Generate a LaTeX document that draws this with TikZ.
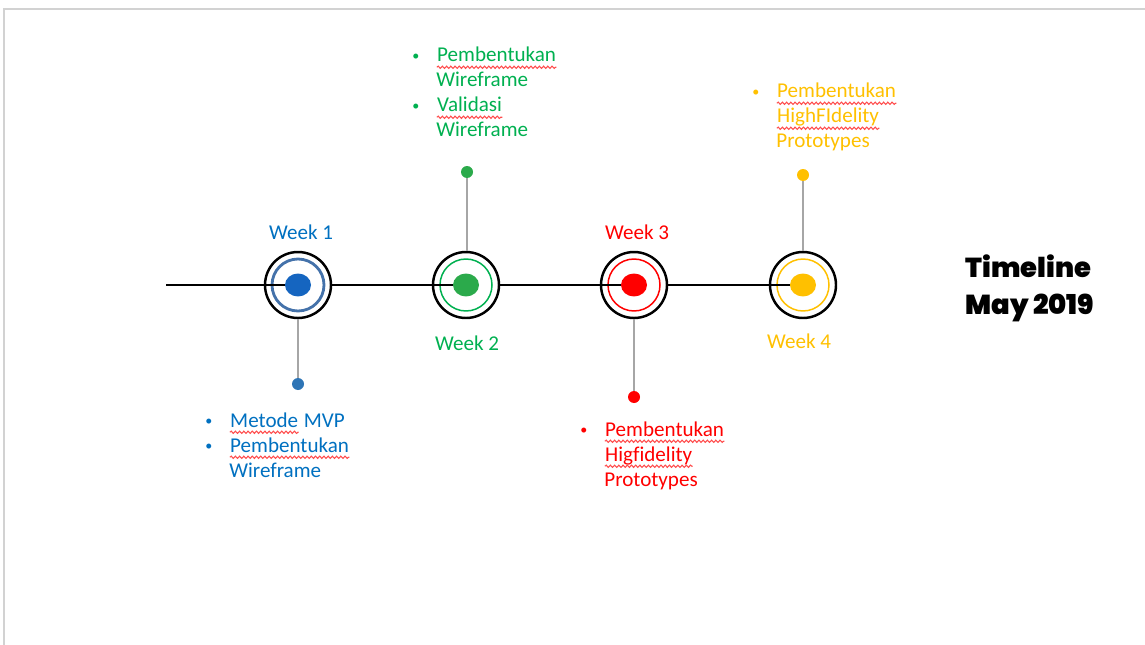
\documentclass[tikz,border=0pt]{standalone}
\usepackage{fontspec}
\setmainfont{Carlito}[Ligatures=NoCommon]
\newfontfamily\titlefont{Poppins}[UprightFont={* Black}]
\usepackage{tikz}
\usetikzlibrary{positioning,shapes.geometric,decorations.pathmorphing}

\definecolor{wkblue}{RGB}{0,112,192}
\definecolor{dotblue}{RGB}{21,101,192}
\definecolor{ringblue}{RGB}{68,114,170}
\definecolor{pinblue}{RGB}{46,117,182}
\definecolor{wkgreen}{RGB}{0,176,80}
\definecolor{dotgreen}{RGB}{43,170,75}
\definecolor{wkred}{RGB}{255,0,0}
\definecolor{wkyellow}{RGB}{255,192,0}
\definecolor{stemgray}{RGB}{166,166,166}
\definecolor{framegray}{RGB}{210,210,210}

% spelling squiggle under a word
\newcommand\spell[1]{\tikz[baseline=(w.base)]{\node[inner sep=0pt] (w) {#1};
  \draw[red!70,line width=0.6pt,decorate,decoration={snake,amplitude=0.65pt,segment length=2.4pt}]
    ([yshift=-3pt]w.base west) -- ([yshift=-3pt]w.base east);}}
\newcommand\bul{\makebox[0.48cm][l]{\raisebox{1pt}{\fontsize{8}{8}\selectfont\textbullet}}}
\newcommand\nobul{\hspace*{0.48cm}}

\begin{document}
\begin{tikzpicture}[x=0.02cm,y=-0.02cm,
every node/.style={inner sep=0pt,font=\fontsize{12}{14.23}\selectfont},
ring/.style={circle,draw=black,line width=1.4pt,minimum size=1.32cm},
inring/.style={circle,line width=0.85pt,minimum size=1.04cm},
bigdot/.style={ellipse,minimum width=0.52cm,minimum height=0.46cm},
pin/.style={circle,minimum size=0.24cm},
stem/.style={draw=stemgray,line width=1.5pt},
axis/.style={draw=black,line width=1.2pt},
list/.style={anchor=base west,align=left},
wk/.style={anchor=base}]
\useasboundingbox (0,0) rectangle (1145,645);
\draw[framegray,line width=0.8pt] (4,645) -- (4,9) -- (1145,9);

\coordinate (start) at (166,285);
\node[ring] (W1) at (298,285) {};
\node[ring] (W2) at (466,285) {};
\node[ring] (W3) at (634,285) {};
\node[ring] (W4) at (803,285) {};
\node[inring,draw=ringblue,line width=1.6pt] (I1) at (W1) {};
\node[inring,draw=wkgreen] (I2) at (W2) {};
\node[inring,draw=wkred] (I3) at (W3) {};
\node[inring,draw=wkyellow] (I4) at (W4) {};

\draw[axis] (start) -- (W1.center);
\draw[axis] (W1.east) -- (W2.center);
\draw[axis] (W2.east) -- (W3.center);
\draw[axis] (W3.east) -- (W4.center);

\node[bigdot,fill=dotblue] (D1) at (W1) {};
\node[bigdot,fill=dotgreen] (D2) at (W2) {};
\node[bigdot,fill=wkred] (D3) at (W3) {};
\node[bigdot,fill=wkyellow] (D4) at (W4) {};

\node[pin,fill=pinblue] (P1) at (298,384) {};
\node[pin,fill=dotgreen] (P2) at (467,172) {};
\node[pin,fill=wkred] (P3) at (634,397) {};
\node[pin,fill=wkyellow] (P4) at (803,175) {};
\draw[stem] (P1 |- W1.south) -- (P1);
\draw[stem] (P2 |- W2.north) -- (P2);
\draw[stem] (P3 |- W3.south) -- (P3);
\draw[stem] (P4 |- W4.north) -- (P4);

\node[wk,text=wkblue] (L1) at (301,239) {Week 1};
\node[wk,text=wkgreen] (L2) at (467,350) {Week 2};
\node[wk,text=wkred] (L3) at (637,239) {Week 3};
\node[wk,text=wkyellow] (L4) at (799,348) {Week 4};

% lists, anchored at the baseline of their last line
\node[list,text=wkblue] (T1) at (205,477)
  {\bul\spell{Metode} MVP\\ \bul\spell{Pembentukan}\\ \nobul Wireframe};
\node[list,text=wkgreen] (T2) at (412,137)
  {\bul\spell{Pembentukan}\\ \nobul Wireframe\\ \bul\spell{Validasi}\\ \nobul Wireframe};
\node[list,text=wkred] (T3) at (580,486)
  {\bul\spell{Pembentukan}\\ \nobul\spell{Higfidelity}\\ \nobul Prototypes};
\node[list,text=wkyellow] (T4) at (752,148)
  {\bul\spell{Pembentukan}\\ \nobul\spell{HighFIdelity}\\ \nobul Prototypes};

\node[list,font=\titlefont\fontsize{15.6}{21}\selectfont] (title) at (965,314)
  {Timeline\\ May 2019};
\end{tikzpicture}
\end{document}
